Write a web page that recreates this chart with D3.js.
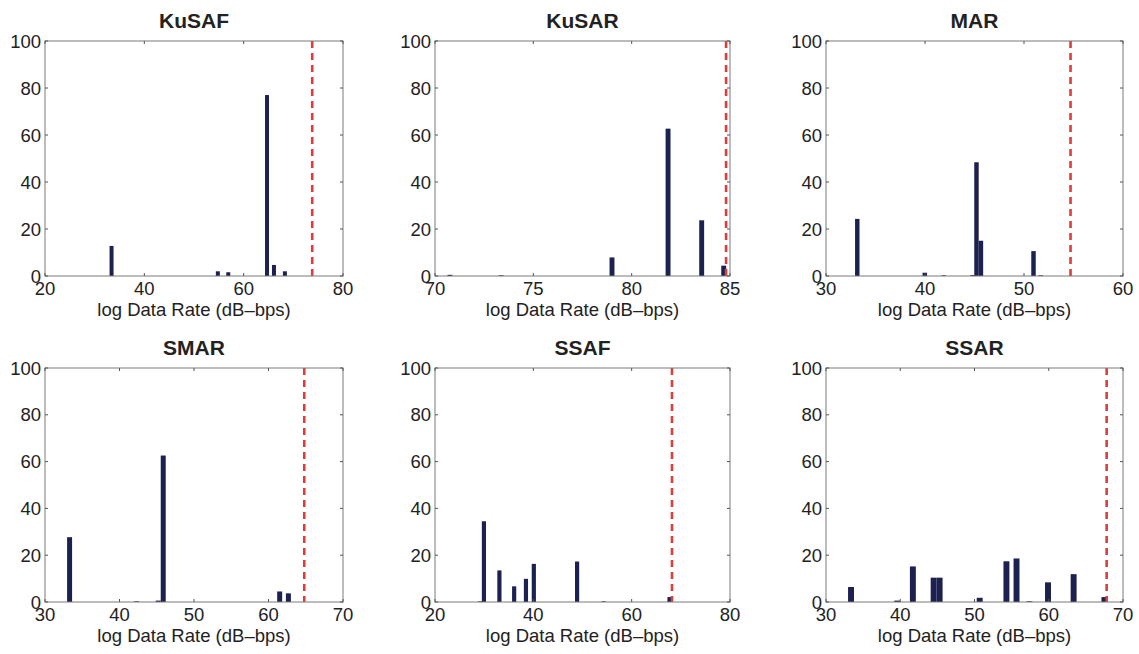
<!DOCTYPE html>
<html>
<head>
<meta charset="utf-8">
<script src="https://cdn.jsdelivr.net/npm/d3@7"></script>
<style>
  body { margin: 0; background: #fff; }
  text { font-family: "Liberation Sans", Arial, sans-serif; fill: #222; }
</style>
</head>
<body>
<div id="chart"></div>
<script>
// panel titles and ticks
const titles = ["KuSAF", "KuSAR", "MAR", "SMAR", "SSAF", "SSAR"]
const xDomains = [[20, 80], [70, 85], [30, 60], [30, 70], [20, 80], [30, 70]]
const xTickValues = [
  [20, 40, 60, 80],
  [70, 75, 80, 85],
  [30, 40, 50, 60],
  [30, 40, 50, 60, 70],
  [20, 40, 60, 80],
  [30, 40, 50, 60, 70]
]
const yTickValues = [0, 20, 40, 60, 80, 100]

// histogram bins (centre, percent)
const kusafCenters = [33.4, 54.8, 56.9, 64.7, 66.1, 68.3]
const kusafCounts  = [12.8, 2.0, 1.6, 77, 4.7, 2.0]
const kusarCenters = [70.76, 73.36, 79.0, 81.85, 83.56, 84.68]
const kusarCounts  = [0.5, 0.3, 7.9, 62.7, 23.7, 4.4]
const marCenters = [33.16, 39.98, 41.9, 44.8, 45.2, 45.65, 50.96, 51.7]
const marCounts  = [24.3, 1.4, 0.3, 0.4, 48.4, 15, 10.6, 0.3]
const smarCenters = [33.3, 42.3, 45.2, 45.87, 61.5, 62.67]
const smarCounts  = [27.7, 0.3, 0.6, 62.6, 4.5, 3.7]
const ssafCenters = [29.2, 29.95, 33.1, 36.1, 38.5, 40.1, 48.9, 54.3, 67.7]
const ssafCounts  = [0.3, 34.5, 13.5, 6.7, 9.9, 16.3, 17.3, 0.3, 2.1]
const ssarCenters = [33.37, 39.6, 41.7, 44.5, 45.3, 50.7, 54.3, 55.66, 57.4, 59.9, 63.35, 67.5]
const ssarCounts  = [6.4, 0.6, 15.2, 10.4, 10.4, 1.8, 17.4, 18.6, 0.3, 8.4, 11.9, 2.1]
const barWidths = [0.8, 0.25, 0.45, 0.67, 0.85, 0.8]

// requirement thresholds (dashed red lines)
const limits = [73.8, 84.8, 54.7, 64.8, 68.2, 67.8]

const centers = [kusafCenters, kusarCenters, marCenters, smarCenters, ssafCenters, ssarCenters]
const counts = [kusafCounts, kusarCounts, marCounts, smarCounts, ssafCounts, ssarCounts]

// layout
const W = 1139, H = 654
const colLeft = [45, 435, 826]
const colRight = [343, 730, 1123]
const rowTop = [41, 368]
const rowBottom = [276, 602]
const tickLen = 3

const svg = d3.select("#chart").append("svg")
  .attr("width", W)
  .attr("height", H)

titles.forEach((name, i) => {
  const col = i % 3, row = Math.floor(i / 3)
  const x0 = colLeft[col], x1 = colRight[col]
  const y0 = rowTop[row], y1 = rowBottom[row]

  const x = d3.scaleLinear().domain(xDomains[i]).range([x0, x1])
  const y = d3.scaleLinear().domain([0, 100]).range([y1, y0])

  const g = svg.append("g")

  const bins = centers[i].map((c, k) => ({c: c, v: counts[i][k]}))
  const bw = barWidths[i]

  // bars
  g.selectAll("rect.bar").data(bins).enter().append("rect")
    .attr("class", "bar")
    .attr("x", d => x(d.c - bw / 2))
    .attr("width", d => x(d.c + bw / 2) - x(d.c - bw / 2))
    .attr("y", d => y(d.v))
    .attr("height", d => y(0) - y(d.v))
    .attr("fill", "#1d2150")

  // threshold line
  g.append("line")
    .attr("x1", x(limits[i])).attr("x2", x(limits[i]))
    .attr("y1", y(100)).attr("y2", y(0))
    .attr("stroke", "#e03c3c")
    .attr("stroke-width", 2.6)
    .attr("stroke-dasharray", "7,5")

  // box
  g.append("rect")
    .attr("x", x0).attr("y", y0)
    .attr("width", x1 - x0).attr("height", y1 - y0)
    .attr("fill", "none")
    .attr("stroke", "#7a7a7a")
    .attr("stroke-width", 1)

  // inward ticks on all four sides
  const xt = xTickValues[i]
  g.selectAll("line.xtb").data(xt).enter().append("line")
    .attr("x1", d => x(d)).attr("x2", d => x(d))
    .attr("y1", y1).attr("y2", y1 - tickLen)
    .attr("stroke", "#555")
  g.selectAll("line.xtt").data(xt).enter().append("line")
    .attr("x1", d => x(d)).attr("x2", d => x(d))
    .attr("y1", y0).attr("y2", y0 + tickLen)
    .attr("stroke", "#555")
  g.selectAll("line.ytl").data(yTickValues).enter().append("line")
    .attr("x1", x0).attr("x2", x0 + tickLen)
    .attr("y1", d => y(d)).attr("y2", d => y(d))
    .attr("stroke", "#555")
  g.selectAll("line.ytr").data(yTickValues).enter().append("line")
    .attr("x1", x1).attr("x2", x1 - tickLen)
    .attr("y1", d => y(d)).attr("y2", d => y(d))
    .attr("stroke", "#555")

  // tick labels
  g.selectAll("text.xl").data(xt).enter().append("text")
    .attr("x", d => x(d))
    .attr("y", y1 + 19)
    .attr("text-anchor", "middle")
    .style("font-size", "18.5px")
    .text(d => d)
  g.selectAll("text.yl").data(yTickValues).enter().append("text")
    .attr("x", x0 - 4)
    .attr("y", d => y(d) + 6.5)
    .attr("text-anchor", "end")
    .style("font-size", "18.5px")
    .text(d => d)

  // axis label and title
  g.append("text")
    .attr("x", (x0 + x1) / 2)
    .attr("y", y1 + 40)
    .attr("text-anchor", "middle")
    .style("font-size", "18.5px")
    .text("log Data Rate (dB\u2013bps)")
  g.append("text")
    .attr("x", (x0 + x1) / 2)
    .attr("y", y0 - 13)
    .attr("text-anchor", "middle")
    .style("font-size", "21px")
    .style("font-weight", "bold")
    .text(name)
})
</script>
</body>
</html>
